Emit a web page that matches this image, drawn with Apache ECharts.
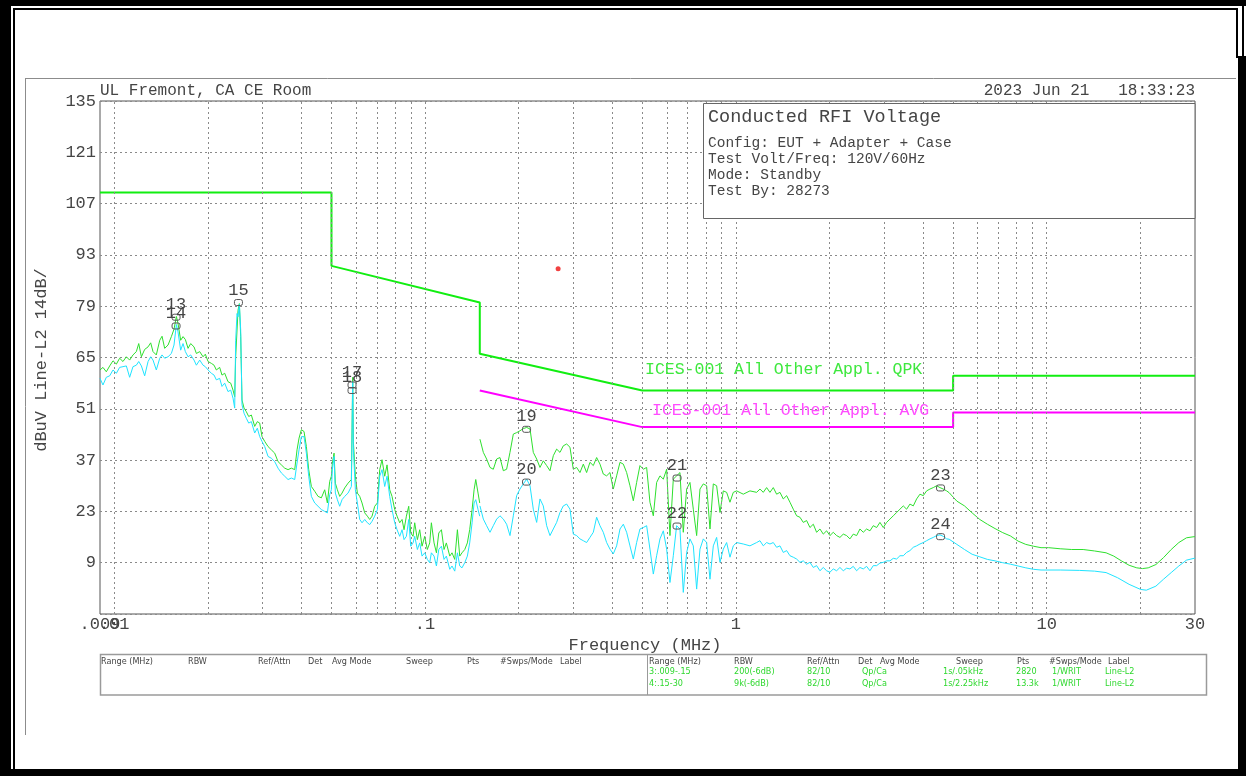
<!DOCTYPE html>
<html>
<head>
<meta charset="utf-8">
<script src="https://cdn.jsdelivr.net/npm/echarts@6/dist/echarts.min.js"></script>
<style>
  html, body { margin: 0; padding: 0; background: #fff; }
  #chart { width: 1246px; height: 776px; }
</style>
</head>
<body>
<div id="chart"></div>
<script>
// ---- Data: frequency in MHz, level in dBuV ----

// Scan range 3 (0.009 - 0.15 MHz), peak detector trace
const peakScanLow = [
  [0.00900,61.6],[0.00920,62.3],[0.00943,61.1],[0.00967,62.7],[0.00991,64.1],[0.01016,63.2],[0.01041,64.8],
  [0.01067,63.9],[0.01094,65.2],[0.01121,64.3],[0.01149,65.7],[0.01178,66.6],[0.01199,68.8],[0.01223,65.2],
  [0.01253,67.2],[0.01285,67.9],[0.01310,69.0],[0.01333,66.6],[0.01366,65.7],[0.01401,69.7],[0.01425,70.8],
  [0.01453,67.5],[0.01490,68.4],[0.01527,70.7],[0.01557,72.7],[0.01585,76.2],[0.01604,74.3],[0.01636,69.7],
  [0.01665,70.7],[0.01694,69.9],[0.01728,67.5],[0.01762,68.8],[0.01806,67.9],[0.01838,66.1],[0.01884,66.6],
  [0.01931,65.2],[0.01964,65.9],[0.02004,63.9],[0.02054,63.4],[0.02095,62.9],[0.02131,61.6],[0.02184,62.3],
  [0.02222,60.2],[0.02267,60.7],[0.02323,58.4],[0.02370,58.0],[0.02411,56.1],[0.02441,54.3],[0.02459,65.2],
  [0.02484,72.5],[0.02502,77.9],[0.02527,79.7],[0.02552,70.7],[0.02577,53.4],[0.02616,51.2],[0.02661,50.2],
  [0.02708,48.9],[0.02762,49.3],[0.02831,46.2],[0.02887,47.5],[0.02938,47.1],[0.02989,43.4],[0.03049,42.1],
  [0.03125,40.7],[0.03203,39.8],[0.03283,38.9],[0.03365,36.6],[0.03449,35.7],[0.03536,34.8],[0.03624,34.4],
  [0.03715,34.8],[0.03808,34.4],[0.03874,39.8],[0.03932,43.0],[0.04000,45.3],[0.04080,44.8],[0.04151,40.7],
  [0.04224,34.4],[0.04308,29.8],[0.04416,28.5],[0.04526,27.1],[0.04639,26.7],[0.04755,28.9],[0.04850,25.3],
  [0.04935,31.2],[0.04996,32.6],[0.05033,36.2],[0.05096,38.9],[0.05146,30.7],[0.05223,28.9],[0.05314,27.1],
  [0.05407,28.0],[0.05515,29.4],[0.05653,30.7],[0.05794,31.7],[0.05823,46.0],[0.05851,59.6],[0.05880,42.0],
  [0.05968,32.6],[0.06057,28.0],[0.06163,27.1],[0.06270,25.3],[0.06396,22.6],[0.06523,21.7],[0.06637,20.8],
  [0.06753,21.7],[0.06887,24.4],[0.07025,25.3],[0.07147,34.4],[0.07272,37.1],[0.07417,32.6],[0.07547,35.7],
  [0.07697,28.9],[0.07831,27.1],[0.07988,23.5],[0.08127,21.7],[0.08289,19.9],[0.08434,20.8],[0.08559,18.0],
  [0.08709,21.7],[0.08861,24.4],[0.08993,17.1],[0.09150,16.2],[0.09263,19.9],[0.09448,15.3],[0.09613,18.0],
  [0.09780,13.5],[0.09976,16.2],[0.1017,12.6],[0.1035,14.4],[0.1048,19.9],[0.1069,14.4],[0.1088,11.7],
  [0.1107,17.1],[0.1129,18.0],[0.1151,12.6],[0.1171,14.4],[0.1201,10.8],[0.1221,11.7],[0.1246,9.9],
  [0.1271,18.0],[0.1293,10.8],[0.1315,11.7],[0.1342,12.6],[0.1368,14.4],[0.1392,18.0],[0.1417,23.5],
  [0.1438,28.9],[0.1456,31.7],[0.1481,28.0],[0.1499,25.3]
];

// Scan range 3 (0.009 - 0.15 MHz), average detector trace
const avgScanLow = [
  [0.00900,59.3],[0.00920,57.5],[0.00943,59.6],[0.00967,60.0],[0.00991,61.6],[0.01016,60.7],[0.01041,62.3],
  [0.01067,62.5],[0.01094,62.7],[0.01121,59.6],[0.01149,62.5],[0.01178,62.9],[0.01199,63.9],[0.01223,62.7],
  [0.01253,60.0],[0.01285,63.9],[0.01310,65.2],[0.01333,64.3],[0.01366,61.6],[0.01401,64.8],[0.01425,65.7],
  [0.01453,64.8],[0.01490,65.2],[0.01527,66.1],[0.01557,68.4],[0.01585,74.0],[0.01604,72.0],[0.01636,67.0],
  [0.01665,68.8],[0.01694,66.6],[0.01728,65.2],[0.01762,65.7],[0.01806,64.3],[0.01838,62.9],[0.01884,64.3],
  [0.01931,62.9],[0.01964,62.5],[0.02004,61.6],[0.02054,60.7],[0.02095,60.2],[0.02131,58.9],[0.02184,59.3],
  [0.02222,57.1],[0.02267,58.0],[0.02323,55.7],[0.02370,56.1],[0.02411,53.9],[0.02441,51.2],[0.02459,69.7],
  [0.02484,77.0],[0.02502,76.1],[0.02527,79.5],[0.02552,72.5],[0.02577,52.1],[0.02616,49.8],[0.02661,48.4],
  [0.02708,47.1],[0.02762,47.5],[0.02831,44.4],[0.02887,45.7],[0.02938,43.4],[0.02989,42.1],[0.03049,40.7],
  [0.03125,38.0],[0.03203,37.5],[0.03283,36.6],[0.03365,34.8],[0.03449,33.5],[0.03536,32.6],[0.03624,31.7],
  [0.03715,32.1],[0.03808,31.7],[0.03874,36.2],[0.03932,39.8],[0.04000,43.4],[0.04080,43.4],[0.04151,38.9],
  [0.04224,32.6],[0.04308,27.1],[0.04416,25.3],[0.04526,24.4],[0.04639,23.5],[0.04755,23.0],[0.04850,22.6],
  [0.04935,27.6],[0.04996,28.9],[0.05033,34.4],[0.05096,38.0],[0.05146,28.0],[0.05223,26.2],[0.05314,24.4],
  [0.05407,26.2],[0.05515,27.1],[0.05653,28.0],[0.05794,29.8],[0.05823,44.0],[0.05851,58.4],[0.05880,40.0],
  [0.05968,28.9],[0.06057,25.3],[0.06163,20.8],[0.06270,19.9],[0.06396,20.8],[0.06523,19.9],[0.06637,19.4],
  [0.06753,20.3],[0.06887,21.7],[0.07025,23.5],[0.07147,32.6],[0.07272,34.4],[0.07417,29.8],[0.07547,32.6],
  [0.07697,27.1],[0.07831,23.5],[0.07988,19.9],[0.08127,18.0],[0.08289,16.2],[0.08434,18.0],[0.08559,15.3],
  [0.08709,16.2],[0.08861,20.8],[0.08993,13.5],[0.09150,14.4],[0.09263,16.2],[0.09448,12.6],[0.09613,14.4],
  [0.09780,10.8],[0.09976,11.7],[0.1017,9.9],[0.1035,9.0],[0.1048,11.7],[0.1069,10.8],[0.1088,8.1],
  [0.1107,12.6],[0.1129,13.5],[0.1151,9.9],[0.1171,10.8],[0.1201,7.2],[0.1221,8.1],[0.1246,6.7],
  [0.1271,11.7],[0.1293,8.1],[0.1315,7.6],[0.1342,9.0],[0.1368,10.8],[0.1392,14.4],[0.1417,19.9],
  [0.1438,25.3],[0.1456,26.2],[0.1481,23.5],[0.1499,21.7]
];

// Scan range 4 (0.15 - 30 MHz), peak detector trace
const peakScanHigh = [
  [0.1502,42.7],[0.1540,39.1],[0.1578,37.3],[0.1618,35.0],[0.1658,34.5],[0.1700,37.3],[0.1742,37.7],
  [0.1786,34.1],[0.1830,34.5],[0.1876,39.1],[0.1923,44.1],[0.1971,44.5],[0.2020,45.0],[0.2071,45.6],
  [0.2123,45.9],[0.2176,45.5],[0.2230,39.1],[0.2286,37.3],[0.2343,35.0],[0.2401,36.8],[0.2462,35.5],
  [0.2523,34.1],[0.2586,38.2],[0.2651,40.0],[0.2717,39.1],[0.2785,40.9],[0.2855,41.4],[0.2926,40.5],
  [0.2999,34.5],[0.3074,35.0],[0.3151,33.6],[0.3230,35.9],[0.3310,33.6],[0.3393,36.4],[0.3478,35.5],
  [0.3565,37.7],[0.3654,35.9],[0.3745,33.2],[0.3839,32.7],[0.3935,33.6],[0.4033,29.1],[0.4134,32.7],
  [0.4238,36.4],[0.4344,35.9],[0.4452,33.6],[0.4563,30.0],[0.4678,25.9],[0.4794,30.9],[0.4914,35.5],
  [0.5037,34.5],[0.5163,35.0],[0.5292,25.5],[0.5425,21.8],[0.5560,30.9],[0.5699,32.7],[0.5842,31.8],
  [0.5988,34.5],[0.6137,16.4],[0.6291,31.8],[0.6448,32.7],[0.6609,33.6],[0.6774,17.3],[0.6944,29.1],
  [0.7117,30.9],[0.7295,23.6],[0.7478,16.4],[0.7665,29.1],[0.7856,30.5],[0.8053,30.0],[0.8254,18.2],
  [0.8460,30.5],[0.8672,30.0],[0.8889,22.7],[0.9111,28.6],[0.9338,28.2],[0.9572,25.5],[0.9811,28.2],
  [1.0056,28.6],[1.0565,27.7],[1.1100,28.6],[1.1662,28.2],[1.1953,29.1],[1.2252,28.2],[1.2558,29.5],
  [1.2872,28.2],[1.3194,29.5],[1.3524,27.7],[1.3862,28.2],[1.4208,26.4],[1.4564,27.3],[1.4928,25.5],
  [1.5301,23.6],[1.5683,21.8],[1.6075,21.4],[1.6477,20.0],[1.6889,20.5],[1.7311,18.6],[1.7744,19.5],
  [1.8187,17.3],[1.8642,18.2],[1.9108,16.8],[1.9586,17.7],[2.0075,16.4],[2.0577,17.3],[2.1092,16.4],
  [2.1619,15.9],[2.2160,16.8],[2.2714,16.4],[2.3281,15.5],[2.3863,16.8],[2.4460,16.4],[2.5071,18.2],
  [2.5698,17.3],[2.6341,18.2],[2.6999,17.7],[2.7674,19.1],[2.8366,18.6],[2.9075,20.0],[2.9802,18.6],
  [3.0547,20.0],[3.1311,20.9],[3.2094,21.8],[3.2896,22.7],[3.3718,23.6],[3.4561,24.5],[3.5425,23.6],
  [3.6311,25.0],[3.7219,24.5],[3.8149,26.4],[3.9103,27.7],[4.0081,27.3],[4.1083,28.6],[4.2110,29.1],
  [4.3162,29.5],[4.4241,30.0],[4.5348,29.5],[4.6481,29.1],[4.7643,28.6],[4.856,28.1],[5.140,25.8],
  [5.439,24.5],[5.756,22.6],[6.092,20.8],[6.446,19.5],[6.823,18.3],[7.221,17.2],[7.643,16.3],
  [8.089,14.9],[8.562,14.0],[9.061,13.5],[9.589,13.1],[10.149,13.1],[11.052,12.8],[12.033,12.6],
  [13.100,12.6],[14.262,12.2],[15.527,11.7],[16.435,10.8],[17.394,9.5],[18.410,8.3],[19.484,7.6],
  [20.334,7.4],[21.218,7.6],[22.457,8.5],[23.765,10.4],[25.149,12.6],[26.617,14.5],[28.171,15.8],
  [29.814,16.1],[30,16.1]
];

// Scan range 4 (0.15 - 30 MHz), average detector trace
const avgScanHigh = [
  [0.1502,24.5],[0.1540,20.9],[0.1578,19.1],[0.1618,17.3],[0.1658,19.1],[0.1700,20.9],[0.1742,21.8],
  [0.1786,20.9],[0.1830,19.5],[0.1876,16.4],[0.1923,21.8],[0.1971,27.3],[0.2020,29.1],[0.2071,30.5],
  [0.2123,31.8],[0.2176,30.0],[0.2230,23.6],[0.2286,20.0],[0.2343,26.4],[0.2401,24.5],[0.2462,19.1],
  [0.2523,16.4],[0.2586,18.2],[0.2651,20.0],[0.2717,22.7],[0.2785,24.5],[0.2855,25.0],[0.2926,23.6],
  [0.2999,16.8],[0.3074,16.4],[0.3151,15.5],[0.3230,15.0],[0.3310,14.5],[0.3393,15.9],[0.3478,17.3],
  [0.3565,21.4],[0.3654,19.1],[0.3745,17.3],[0.3839,14.5],[0.3935,12.7],[0.4033,11.4],[0.4134,13.6],
  [0.4238,18.2],[0.4344,19.5],[0.4452,17.3],[0.4563,13.6],[0.4678,10.0],[0.4794,14.5],[0.4914,18.2],
  [0.5037,18.6],[0.5163,19.1],[0.5292,12.7],[0.5425,5.9],[0.5560,10.9],[0.5699,15.5],[0.5842,17.7],
  [0.5988,12.7],[0.6137,3.6],[0.6291,10.9],[0.6448,19.1],[0.6609,18.2],[0.6774,0.9],[0.6944,11.8],
  [0.7117,15.5],[0.7295,13.6],[0.7478,1.8],[0.7665,12.7],[0.7856,15.5],[0.8053,14.5],[0.8254,4.5],
  [0.8460,13.6],[0.8672,15.9],[0.8889,9.1],[0.9111,12.7],[0.9338,14.5],[0.9572,10.5],[0.9811,13.6],
  [1.0056,14.5],[1.0565,14.1],[1.1100,13.6],[1.1662,14.5],[1.1953,15.0],[1.2252,13.6],[1.2558,14.5],
  [1.2872,14.1],[1.3194,14.5],[1.3524,13.2],[1.3862,13.6],[1.4208,11.8],[1.4564,12.3],[1.4928,10.9],
  [1.5301,10.5],[1.5683,10.0],[1.6075,9.1],[1.6477,9.5],[1.6889,8.6],[1.7311,9.1],[1.7744,7.7],
  [1.8187,8.2],[1.8642,6.8],[1.9108,7.7],[1.9586,6.8],[2.0075,6.4],[2.0577,7.3],[2.1092,6.8],
  [2.1619,7.7],[2.2160,6.8],[2.2714,7.5],[2.3281,7.3],[2.3863,8.0],[2.4460,6.8],[2.5071,7.7],
  [2.5698,7.3],[2.6341,8.0],[2.6999,6.8],[2.7674,8.2],[2.8366,8.2],[2.9075,8.9],[2.9802,9.1],
  [3.0547,9.5],[3.1311,9.5],[3.2094,10.2],[3.2896,10.0],[3.3718,10.9],[3.4561,10.9],[3.5425,11.8],
  [3.6311,12.3],[3.7219,13.2],[3.8149,13.6],[3.9103,14.1],[4.0081,14.5],[4.1083,15.0],[4.2110,15.5],
  [4.3162,15.9],[4.4241,16.4],[4.5348,16.6],[4.6481,16.2],[4.7643,15.5],[4.856,15.4],[5.140,14.0],
  [5.439,12.6],[5.756,11.3],[6.092,10.6],[6.446,9.9],[6.823,9.5],[7.221,9.0],[7.643,8.6],
  [8.089,8.1],[8.562,7.6],[9.061,7.2],[9.589,7.0],[11.052,7.0],[12.735,6.9],[14.262,6.7],
  [15.527,6.3],[16.909,4.9],[18.410,3.1],[20.048,1.7],[20.920,1.5],[22.457,2.6],[23.765,4.5],
  [25.149,6.3],[26.617,8.1],[28.171,9.7],[29.814,10.2],[30,10.3]
];

// ICES-001 limit lines
const qpkLimit = [[0.009,110],[0.05,110],[0.05,90],[0.15,80],[0.15,66],[0.5,56],[5,56],[5,60],[30,60]];
const avgLimit = [[0.15,56],[0.5,46],[5,46],[5,50],[30,50]];
const qpkLimitLabel = 'ICES-001 All Other Appl. QPK';
const avgLimitLabel = 'ICES-001 All Other Appl. AVG';

// Numbered markers: frequency (MHz), level (dBuV), marker id
const markerFreqs  = [0.01581, 0.01581, 0.0251, 0.05822, 0.05822, 0.2121, 0.2121, 0.6468, 0.6468, 4.555, 4.555];
const markerLevels = [76.0, 73.6, 80.0, 57.5, 56.0, 45.4, 31.0, 32.1, 19.0, 29.4, 16.1];
const markerIds    = ['13', '14', '15', '17', '18', '19', '20', '21', '22', '23', '24'];

// Single red point on the plot
const redPoint = [[0.268, 89.2]];

// Axis ticks
const xTickValues = [0.009, 0.01, 0.1, 1, 10, 30];
const xTickLabels = ['.009', '.01', '.1', '1', '10', '30'];
const xGridFreqs = [0.01,0.02,0.03,0.04,0.05,0.06,0.07,0.08,0.09,
                    0.1,0.2,0.3,0.4,0.5,0.6,0.7,0.8,0.9,
                    1,2,3,4,5,6,7,8,9,10,20];
const xMin = 0.009, xMax = 30;
const yMin = -5, yMax = 135, yStep = 14;

// Header / annotation texts
const siteText = 'UL Fremont, CA CE Room';
const dateText = '2023 Jun 21   18:33:23';
const boxTitle = 'Conducted RFI Voltage';
const boxLines = ['Config: EUT + Adapter + Case', 'Test Volt/Freq: 120V/60Hz', 'Mode: Standby', 'Test By: 28273'];
const yAxisTitle = 'dBuV Line-L2 14dB/';
const xAxisTitle = 'Frequency (MHz)';

// Settings table
const tableHeaders = ['Range (MHz)', 'RBW', 'Ref/Attn', 'Det', 'Avg Mode', 'Sweep', 'Pts', '#Swps/Mode', 'Label'];
const tableRows = [
  ['3:.009-.15', '200(-6dB)', '82/10', 'Qp/Ca', '1s/.05kHz', '2820', '1/WRIT', 'Line-L2'],
  ['4:.15-30', '9k(-6dB)', '82/10', 'Qp/Ca', '1s/2.25kHz', '13.3k', '1/WRIT', 'Line-L2']
];

// ---- Layout ----
const MONO = '"Liberation Mono", "DejaVu Sans Mono", monospace';
const NARROW = '"DejaVu Sans Condensed", "Liberation Sans Narrow", "DejaVu Sans", sans-serif';
const TXT = '#454545';
const GRID = { left: 100, top: 101, width: 1095, height: 513 };

const headerColsLeft = [101, 188, 258, 308, 332, 406, 467, 500, 560];
const headerColsRight = [649, 734, 807, 858, 880, 956, 1017, 1049, 1108];
const rowCols = [649, 734, 807, 862, 943, 1016, 1052, 1105];

function txt(x, y, text, font, fill, align, extra) {
  return Object.assign({
    type: 'text', x: x, y: y, z: 100, silent: true,
    style: { text: text, font: font, fill: fill,
             textAlign: align || 'left', align: align || 'left',
             textVerticalAlign: 'middle', verticalAlign: 'middle' }
  }, extra || {});
}
function box(x, y, w, h, fill, stroke, lw, z) {
  return { type: 'rect', z: z || 100, silent: true,
           shape: { x: x, y: y, width: w, height: h },
           style: { fill: fill, stroke: stroke, lineWidth: lw || 0 } };
}

const graphics = [];
// page frame
graphics.push(box(0, 0, 1246, 6, '#000', null, 0, 200));
graphics.push(box(0, 0, 11, 776, '#000', null, 0, 200));
graphics.push(box(0, 769, 1246, 7, '#000', null, 0, 200));
graphics.push(box(1238, 56, 8, 720, '#000', null, 0, 200));
graphics.push(box(13, 8, 1223, 2, '#000', null, 0, 200));
graphics.push(box(13, 8, 2, 761, '#000', null, 0, 200));
graphics.push(box(1236, 8, 2, 50, '#000', null, 0, 200));
graphics.push(box(1242, 6, 2, 52, '#000', null, 0, 200));
// plot sheet outline
graphics.push({ type: 'line', z: 100, silent: true, shape: { x1: 25, y1: 78.5, x2: 1236, y2: 78.5 }, style: { stroke: '#8c8c8c', lineWidth: 1 } });
graphics.push({ type: 'line', z: 100, silent: true, shape: { x1: 25.5, y1: 78, x2: 25.5, y2: 735 }, style: { stroke: '#8c8c8c', lineWidth: 1 } });

// header line
graphics.push(txt(100, 91, siteText, '16px ' + MONO, TXT, 'left'));
graphics.push(txt(1195, 91, dateText, '16px ' + MONO, TXT, 'right'));

// info box
graphics.push(box(703.5, 103.5, 491.5, 115, '#fff', '#666', 1, 90));
graphics.push(txt(708, 117.5, boxTitle, '18.5px ' + MONO, TXT, 'left'));
[143, 159, 175, 191].forEach(function (y, i) {
  graphics.push(txt(708, y, boxLines[i], '14.5px ' + MONO, TXT, 'left'));
});

// limit labels
graphics.push(txt(645, 370, qpkLimitLabel, '16.5px ' + MONO, '#3ee83e', 'left'));
graphics.push(txt(652, 411, avgLimitLabel, '16.5px ' + MONO, '#ff4cff', 'left'));

// axis titles
graphics.push(txt(41, 360, yAxisTitle, '17px ' + MONO, TXT, 'center', { rotation: Math.PI / 2 }));
graphics.push(txt(645, 645, xAxisTitle, '17px ' + MONO, TXT, 'center'));

// settings table
graphics.push(box(100.5, 654.5, 1106, 40.5, 'none', '#9a9a9a', 1.5, 90));
graphics.push({ type: 'line', z: 100, silent: true, shape: { x1: 647.5, y1: 655, x2: 647.5, y2: 695 }, style: { stroke: '#9a9a9a', lineWidth: 1 } });
tableHeaders.forEach(function (h, i) {
  graphics.push(txt(headerColsLeft[i], 662, h, '9px ' + NARROW, '#444', 'left'));
  graphics.push(txt(headerColsRight[i], 662, h, '9px ' + NARROW, '#444', 'left'));
});
[672, 684].forEach(function (y, r) {
  tableRows[r].forEach(function (cell, i) {
    graphics.push(txt(rowCols[i], y, cell, '9px ' + NARROW, '#2ed82e', 'left'));
  });
});

const chart = echarts.init(document.getElementById('chart'), null, { renderer: 'canvas' });

const option = {
  animation: false,
  backgroundColor: '#ffffff',
  grid: Object.assign({ show: true, borderColor: '#555', borderWidth: 1, backgroundColor: 'transparent' }, GRID),
  xAxis: {
    type: 'log', logBase: 10, min: xMin, max: xMax,
    axisLine: { show: false },
    axisTick: { show: false },
    splitLine: { show: false },
    minorTick: { show: false },
    minorSplitLine: { show: false },
    // frequency labels are drawn by the tick-label series below so that the
    // overlapping .009/.01 pair both stay visible
    axisLabel: { show: false }
  },
  yAxis: {
    type: 'value', min: yMin, max: yMax, interval: yStep,
    axisLine: { show: false },
    axisTick: { show: false },
    splitLine: { show: true, lineStyle: { color: '#8a8a8a', type: [2, 3], width: 1 } },
    axisLabel: {
      formatter: function (v) { return v === yMin ? '' : String(v); },
      color: TXT, fontFamily: MONO, fontSize: 17, margin: 4
    }
  },
  graphic: { elements: graphics },
  series: [
    {
      // vertical dotted grid at each 1-2-3...9 step of every decade
      type: 'line', data: [], silent: true, symbol: 'none', z: 1,
      markLine: {
        silent: true, symbol: ['none', 'none'], animation: false,
        label: { show: false },
        lineStyle: { color: '#8a8a8a', type: [2, 3], width: 1 },
        data: xGridFreqs.map(function (f) { return { xAxis: f }; })
      }
    },
    {
      // frequency tick labels under the axis
      type: 'scatter', silent: true, clip: false, z: 2,
      data: xTickValues.map(function (f) { return [f, yMin]; }),
      symbol: 'circle', symbolSize: 1,
      itemStyle: { color: 'rgba(255,255,255,0)' },
      labelLayout: { hideOverlap: false },
      label: {
        show: true, position: 'bottom', distance: 1, opacity: 1,
        formatter: function (p) { return xTickLabels[p.dataIndex]; },
        color: TXT, fontFamily: MONO, fontSize: 17
      }
    },
    {
      type: 'line', data: qpkLimit, symbol: 'none', silent: true, z: 3,
      lineStyle: { color: '#11ee11', width: 2 }
    },
    {
      type: 'line', data: avgLimit, symbol: 'none', silent: true, z: 3,
      lineStyle: { color: '#ff00ff', width: 2 }
    },
    {
      type: 'line', data: peakScanLow, symbol: 'none', silent: true, z: 4,
      lineStyle: { color: '#2ee02e', width: 1 }
    },
    {
      type: 'line', data: peakScanHigh, symbol: 'none', silent: true, z: 4,
      lineStyle: { color: '#2ee02e', width: 1 }
    },
    {
      type: 'line', data: avgScanLow, symbol: 'none', silent: true, z: 5,
      lineStyle: { color: '#1fe4ff', width: 1 }
    },
    {
      type: 'line', data: avgScanHigh, symbol: 'none', silent: true, z: 5,
      lineStyle: { color: '#1fe4ff', width: 1 }
    },
    {
      type: 'custom', silent: true, z: 6,
      data: markerFreqs.map(function (f, i) { return [f, markerLevels[i]]; }),
      encode: { x: 0, y: 1 },
      renderItem: function (params, api) {
        const p = api.coord([api.value(0), api.value(1)]);
        return {
          type: 'group',
          children: [
            { type: 'rect', shape: { x: p[0] - 4, y: p[1] - 3, width: 8, height: 6, r: 2 },
              style: { fill: 'none', stroke: '#555', lineWidth: 1 } },
            { type: 'text', x: p[0], y: p[1] - 12.5,
              style: { text: markerIds[params.dataIndex], font: '17px ' + MONO, fill: '#454545',
                       textAlign: 'center', align: 'center', textVerticalAlign: 'middle', verticalAlign: 'middle' } }
          ]
        };
      }
    },
    {
      type: 'scatter', data: redPoint, symbol: 'circle', symbolSize: 5, silent: true, z: 6,
      itemStyle: { color: '#ee1111' }
    }
  ]
};

chart.setOption(option);
</script>
</body>
</html>
